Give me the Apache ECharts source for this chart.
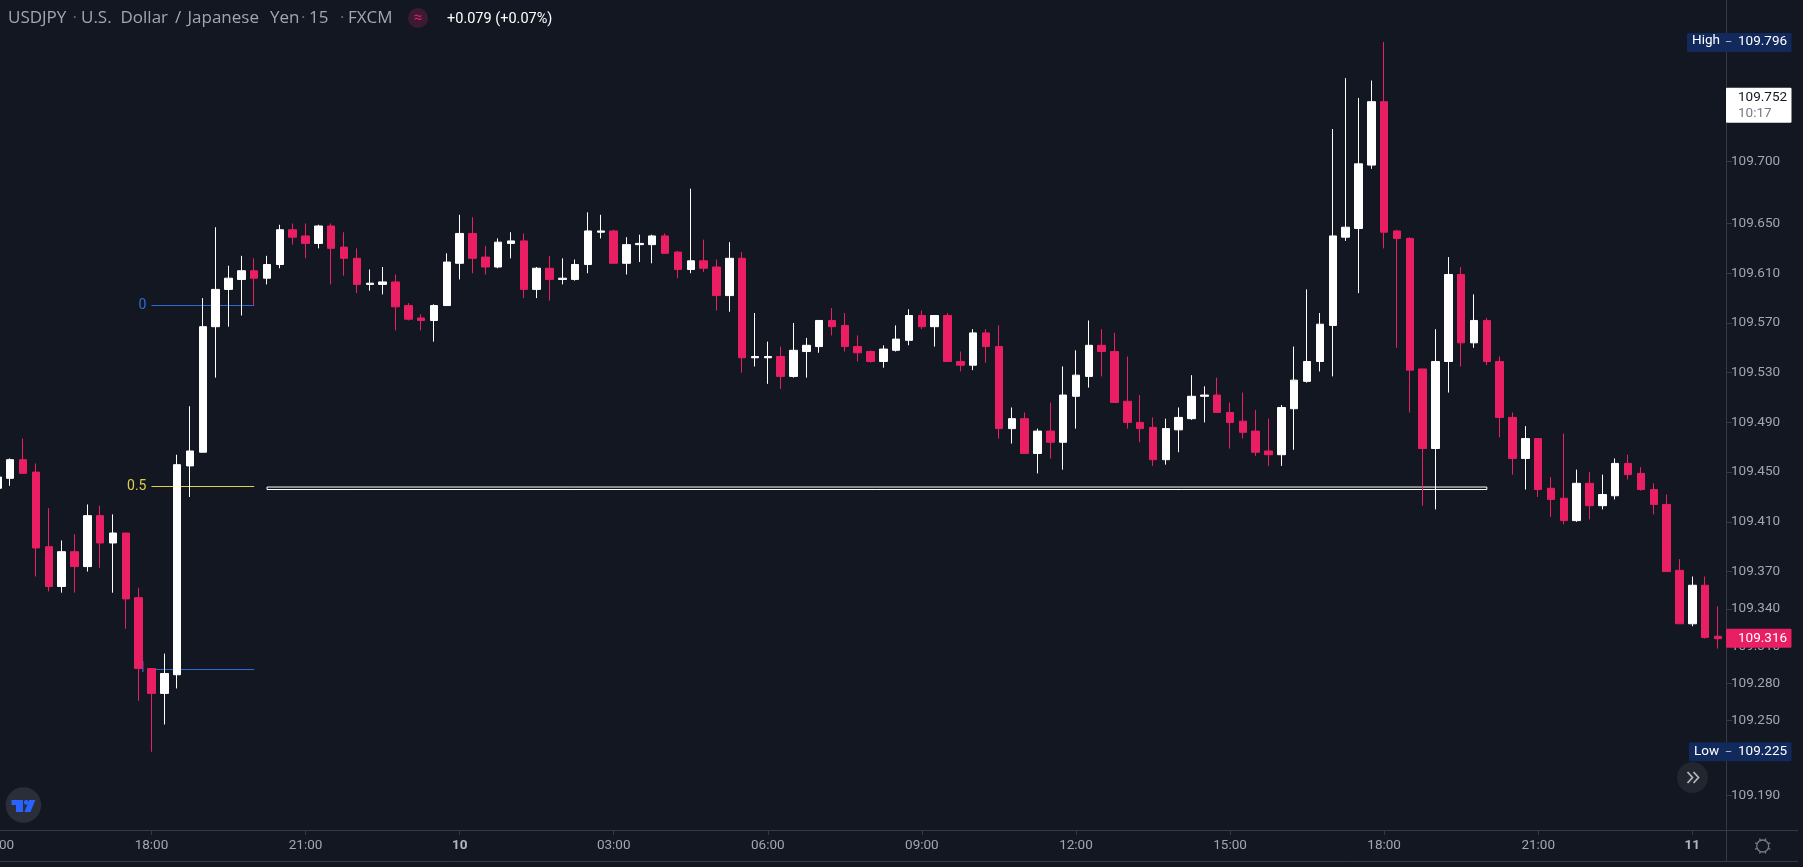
<!DOCTYPE html>
<html>
<head>
<meta charset="utf-8">
<title>USDJPY 15</title>
<style>
  html, body { margin: 0; padding: 0; background: #131722; overflow: hidden; }
  #chart { width: 1803px; height: 867px; }
</style>
<script src="https://cdn.jsdelivr.net/npm/echarts@6/dist/echarts.min.js"></script>
</head>
<body>
<div id="chart"></div>
<script>
// USDJPY 15 min candles
const opens = [
  109.437, 109.445, 109.460, 109.450, 109.390, 109.358, 109.386, 109.374, 109.415, 109.393,
  109.401, 109.349, 109.292, 109.272, 109.287, 109.455, 109.466, 109.567, 109.597, 109.605,
  109.612, 109.606, 109.617, 109.645, 109.640, 109.634, 109.648, 109.631, 109.622, 109.601,
  109.601, 109.603, 109.584, 109.574, 109.572, 109.584, 109.618, 109.642, 109.623, 109.615,
  109.634, 109.636, 109.597, 109.614, 109.605, 109.605, 109.617, 109.643, 109.644, 109.618,
  109.633, 109.633, 109.640, 109.627, 109.613, 109.620, 109.615, 109.592, 109.622, 109.542,
  109.542, 109.543, 109.527, 109.547, 109.551, 109.572, 109.568, 109.551, 109.547, 109.539,
  109.548, 109.556, 109.576, 109.567, 109.576, 109.539, 109.536, 109.562, 109.551, 109.485,
  109.493, 109.465, 109.483, 109.474, 109.511, 109.527, 109.552, 109.547, 109.507, 109.490,
  109.486, 109.460, 109.484, 109.493, 109.511, 109.512, 109.498, 109.491, 109.483, 109.467,
  109.464, 109.501, 109.523, 109.539, 109.568, 109.639, 109.646, 109.697, 109.748, 109.644,
  109.638, 109.533, 109.469, 109.539, 109.609, 109.554, 109.572, 109.539, 109.494, 109.461,
  109.477, 109.437, 109.429, 109.411, 109.441, 109.423, 109.431, 109.457, 109.449, 109.436,
  109.424, 109.371, 109.328, 109.359, 109.318
];
const closes = [
  109.446, 109.460, 109.449, 109.389, 109.358, 109.386, 109.374, 109.415, 109.393, 109.401,
  109.348, 109.292, 109.272, 109.288, 109.456, 109.467, 109.567, 109.597, 109.606, 109.612,
  109.606, 109.617, 109.645, 109.639, 109.634, 109.648, 109.630, 109.622, 109.601, 109.602,
  109.603, 109.583, 109.573, 109.572, 109.584, 109.619, 109.642, 109.622, 109.615, 109.635,
  109.636, 109.597, 109.614, 109.605, 109.606, 109.617, 109.644, 109.644, 109.618, 109.633,
  109.634, 109.640, 109.626, 109.613, 109.620, 109.614, 109.592, 109.622, 109.542, 109.543,
  109.543, 109.527, 109.548, 109.552, 109.572, 109.567, 109.551, 109.546, 109.539, 109.549,
  109.557, 109.576, 109.567, 109.576, 109.539, 109.536, 109.562, 109.551, 109.485, 109.493,
  109.465, 109.483, 109.474, 109.512, 109.528, 109.552, 109.547, 109.506, 109.490, 109.485,
  109.460, 109.485, 109.494, 109.511, 109.512, 109.498, 109.490, 109.482, 109.466, 109.464,
  109.502, 109.524, 109.539, 109.569, 109.640, 109.647, 109.698, 109.748, 109.643, 109.638,
  109.532, 109.469, 109.539, 109.609, 109.554, 109.572, 109.539, 109.494, 109.461, 109.477,
  109.436, 109.428, 109.411, 109.441, 109.423, 109.432, 109.457, 109.448, 109.436, 109.424,
  109.370, 109.328, 109.359, 109.317, 109.316
];
const lows = [
  109.433, 109.439, 109.449, 109.366, 109.354, 109.353, 109.353, 109.370, 109.373, 109.353,
  109.324, 109.266, 109.225, 109.247, 109.276, 109.430, 109.466, 109.526, 109.567, 109.576,
  109.584, 109.601, 109.614, 109.633, 109.622, 109.630, 109.601, 109.608, 109.594, 109.596,
  109.593, 109.564, 109.572, 109.564, 109.555, 109.584, 109.605, 109.610, 109.609, 109.614,
  109.622, 109.590, 109.590, 109.588, 109.601, 109.604, 109.610, 109.638, 109.618, 109.609,
  109.619, 109.618, 109.626, 109.606, 109.610, 109.611, 109.580, 109.579, 109.530, 109.535,
  109.521, 109.517, 109.526, 109.526, 109.546, 109.560, 109.547, 109.539, 109.538, 109.534,
  109.547, 109.552, 109.565, 109.551, 109.539, 109.531, 109.532, 109.538, 109.477, 109.473,
  109.465, 109.449, 109.461, 109.452, 109.485, 109.518, 109.527, 109.506, 109.485, 109.474,
  109.455, 109.456, 109.466, 109.492, 109.490, 109.498, 109.469, 109.477, 109.463, 109.455,
  109.455, 109.468, 109.522, 109.531, 109.527, 109.636, 109.594, 109.694, 109.630, 109.550,
  109.498, 109.423, 109.420, 109.514, 109.535, 109.550, 109.536, 109.478, 109.448, 109.436,
  109.430, 109.414, 109.408, 109.410, 109.412, 109.420, 109.428, 109.444, 109.435, 109.416,
  109.370, 109.328, 109.326, 109.316, 109.308
];
const highs = [
  109.448, 109.461, 109.477, 109.457, 109.421, 109.395, 109.400, 109.424, 109.423, 109.416,
  109.401, 109.357, 109.292, 109.304, 109.464, 109.503, 109.590, 109.647, 109.616, 109.624,
  109.622, 109.624, 109.649, 109.650, 109.650, 109.649, 109.650, 109.643, 109.630, 109.613,
  109.615, 109.609, 109.586, 109.577, 109.585, 109.626, 109.657, 109.655, 109.632, 109.638,
  109.643, 109.642, 109.615, 109.624, 109.622, 109.621, 109.659, 109.657, 109.645, 109.639,
  109.641, 109.641, 109.642, 109.628, 109.678, 109.637, 109.621, 109.635, 109.627, 109.578,
  109.555, 109.551, 109.570, 109.558, 109.572, 109.582, 109.578, 109.560, 109.548, 109.552,
  109.568, 109.581, 109.580, 109.576, 109.578, 109.547, 109.565, 109.565, 109.568, 109.502,
  109.498, 109.485, 109.506, 109.535, 109.548, 109.572, 109.565, 109.562, 109.543, 109.512,
  109.494, 109.493, 109.502, 109.528, 109.519, 109.526, 109.506, 109.514, 109.500, 109.493,
  109.504, 109.551, 109.597, 109.578, 109.726, 109.767, 109.751, 109.765, 109.796, 109.645,
  109.639, 109.533, 109.565, 109.623, 109.615, 109.593, 109.574, 109.543, 109.498, 109.487,
  109.477, 109.446, 109.481, 109.452, 109.450, 109.448, 109.461, 109.464, 109.454, 109.441,
  109.432, 109.380, 109.366, 109.366, 109.342
];

// y axis prices, unevenly spaced like the source chart
const priceTicks = [109.19, 109.22, 109.25, 109.28, 109.31, 109.34, 109.37, 109.41, 109.45, 109.49, 109.53, 109.57, 109.61, 109.65, 109.7];
const fibLevels = [
  { name: '0', price: 109.5843, color: '#2b6cd4' },
  { name: '0.5', price: 109.4384, color: '#dccf4c' },
  { name: '1', price: 109.2918, color: '#2b6cd4' }
];
const boxPrices = [109.438, 109.436];
const lastPrice = 109.316, livePrice = 109.752, highPrice = 109.796, lowPrice = 109.225;

// one label every 12 candles, first candle is 15:00
const xTickLabels = ['15:00', '18:00', '21:00', '10', '03:00', '06:00', '09:00', '12:00', '15:00', '18:00', '21:00', '11'];
const categories = opens.map(function (v, i) {
  return i % 12 === 0 ? xTickLabels[i / 12] : 'c' + i;
});

const BG = '#131722', UP = '#ffffff', DOWN = '#e91e63', AXIS = '#363a45', TEXT = '#a3a6af', NAVY = '#12295c';
const FONT = 'Roboto';

var dom = document.getElementById('chart');
var myChart = echarts.init(dom, null, { renderer: 'canvas' });

var candleData = opens.map(function (o, i) {
  return [o, closes[i], lows[i], highs[i]];
});

var fibLines = fibLevels.map(function (f) {
  return [
    { coord: [12, f.price], lineStyle: { color: f.color, width: 1, type: 'solid' },
      label: { show: true, position: 'start', formatter: f.name, color: f.color, fontSize: 14, fontFamily: FONT, distance: 5 } },
    { coord: [20, f.price] }
  ];
});

var option = {
  backgroundColor: BG,
  animation: false,
  grid: { left: -9.02, top: 0, width: 1733.4, height: 830, outerBoundsMode: 'none' },
  xAxis: {
    type: 'category',
    data: categories,
    boundaryGap: true,
    axisLine: { lineStyle: { color: AXIS, width: 1 } },
    axisTick: { show: true, length: 5, alignWithLabel: true, lineStyle: { color: AXIS },
      interval: function (i) { return i % 12 === 0; } },
    axisLabel: {
      interval: function (i) { return i % 12 === 0; },
      hideOverlap: false,
      showMinLabel: true,
      color: TEXT,
      fontFamily: FONT,
      fontSize: 13.5,
      margin: 9,
      formatter: function (v) { return v.length === 2 ? '{day|' + v + '}' : v; },
      rich: { day: { fontWeight: 'bold', color: '#b2b5be', fontFamily: FONT, fontSize: 13.5 } }
    },
    splitLine: { show: false }
  },
  yAxis: {
    type: 'value',
    position: 'right',
    offset: 1.6,
    min: 109.1621,
    max: 109.8298,
    axisLine: { show: true, lineStyle: { color: AXIS, width: 1 } },
    axisTick: { show: true, length: 6, lineStyle: { color: AXIS }, customValues: priceTicks },
    axisLabel: {
      color: TEXT, fontFamily: FONT, fontSize: 13.5, margin: 5,
      customValues: priceTicks,
      formatter: function (v) { return v.toFixed(3); }
    },
    splitLine: { show: false }
  },
  series: [
    {
      // drawn under the candles
      type: 'line',
      z: 1,
      silent: true,
      data: [],
      markLine: { silent: true, z: 1, symbol: 'none', animation: false, data: fibLines },
      markArea: {
        silent: true, z: 1, animation: false,
        itemStyle: { color: BG, borderColor: '#ffffff', borderWidth: 1 },
        data: [[{ coord: [21, boxPrices[0]] }, { coord: [116, boxPrices[1]] }]]
      }
    },
    {
      type: 'candlestick',
      z: 2,
      barWidth: 8,
      data: candleData,
      itemStyle: { color: UP, color0: DOWN, borderColor: UP, borderColor0: DOWN, borderWidth: 1 }
    }
  ]
};

myChart.setOption(option);

function priceY(p) {
  return myChart.convertToPixel({ yAxisIndex: 0 }, p);
}

function label(x, y, text, color, size, extra, family) {
  return {
    type: 'text', x: x, y: y, z: 20,
    style: Object.assign({ text: text, fill: color, font: size + 'px ' + (family || FONT), textVerticalAlign: 'middle' }, extra || {})
  };
}

function box(x, y, w, h, fill) {
  return { type: 'rect', z: 19, shape: { x: x, y: y, width: w, height: h, r: 1 }, style: { fill: fill } };
}

function hline(x1, x2, y, color) {
  return { type: 'line', z: 18, shape: { x1: x1, y1: y, x2: x2, y2: y }, style: { stroke: color, lineWidth: 1 } };
}

function vline(x, y1, y2, color) {
  return { type: 'line', z: 18, shape: { x1: x, y1: y1, x2: x, y2: y2 }, style: { stroke: color, lineWidth: 1 } };
}

var g = [];

// frame around the axes
g.push(hline(1724, 1798, 830.5, AXIS));
g.push(hline(0, 1798, 861.5, AXIS));
g.push(vline(1726.5, 830, 862, AXIS));

// header, words placed one by one to keep the source's wide spacing
var HEAD = 'Open Sans';
[[8, 'USDJPY'], [81, 'U.S.'], [120.5, 'Dollar'], [175, '/'], [187.5, 'Japanese'], [270, 'Yen'], [309, '15'], [348, 'FXCM']].forEach(function (w) {
  g.push(label(w[0], 18, w[1], TEXT, 17, null, HEAD));
});
[72.5, 301, 340].forEach(function (x) {
  g.push(label(x, 18, '·', '#6a6d78', 17, null, HEAD));
});
g.push({ type: 'circle', z: 19, shape: { cx: 418, cy: 18, r: 10 }, style: { fill: '#3d1a33' } });
g.push(label(418, 18, '≈', DOWN, 15, { textAlign: 'center' }));
g.push(label(447, 19, '+0.079 (+0.07%)', '#ffffff', 14.5));

// price tags on the right axis
var yHigh = priceY(highPrice), yLow = priceY(lowPrice), yLive = priceY(livePrice), yLast = priceY(lastPrice);
g.push(box(1687, yHigh - 9, 104.5, 19, NAVY));
g.push(label(1692, yHigh - 1, 'High', '#ffffff', 13.5));
g.push(label(1725, yHigh, '–', '#c8ccd8', 11));
g.push(label(1738, yHigh, highPrice.toFixed(3), '#ffffff', 13.5));

g.push(box(1726, yLive - 9, 65.5, 35, '#ffffff'));
g.push(hline(1726, 1732, yLive, '#333333'));
g.push(label(1738, yLive + 1, livePrice.toFixed(3), '#131722', 13.5));
g.push(label(1738, yLive + 17, '10:17', '#787b86', 13.5));

g.push(box(1726, yLast - 10, 65.5, 19, DOWN));
g.push(hline(1726, 1732, yLast, '#ffffff'));
g.push(label(1738, yLast, lastPrice.toFixed(3), '#ffffff', 13.5));

g.push(box(1689, yLow - 9.5, 102.5, 19, NAVY));
g.push(label(1694, yLow, 'Low', '#ffffff', 13.5));
g.push(label(1725, yLow, '–', '#c8ccd8', 11));
g.push(label(1738, yLow, lowPrice.toFixed(3), '#ffffff', 13.5));

// scroll button
g.push({ type: 'circle', z: 19, shape: { cx: 1692.5, cy: 777.5, r: 15.5 }, style: { fill: '#22262f' } });
[1687.5, 1693.5].forEach(function (x) {
  g.push({ type: 'polyline', z: 20, shape: { points: [[x, 772], [x + 5, 777.5], [x, 783]] },
    style: { stroke: '#b2b5be', lineWidth: 1.8, fill: null } });
});

// logo
g.push({ type: 'circle', z: 19, shape: { cx: 23.4, cy: 805, r: 17.8 }, style: { fill: '#2a2e39' } });
g.push({ type: 'polygon', z: 20, shape: { points: [[11.5, 800], [23, 800], [23, 812], [16, 812], [16, 805], [11.5, 805]] }, style: { fill: '#2962ff' } });
g.push({ type: 'circle', z: 20, shape: { cx: 26.3, cy: 802.4, r: 2.4 }, style: { fill: '#2962ff' } });
g.push({ type: 'polygon', z: 20, shape: { points: [[29.2, 800], [35.4, 800], [30.4, 812], [24.4, 812]] }, style: { fill: '#2962ff' } });

// settings gear
g.push({ type: 'circle', z: 20, shape: { cx: 1762.7, cy: 846, r: 6 }, style: { fill: null, stroke: '#787b86', lineWidth: 1.3 } });
for (var a = 0; a < 8; a++) {
  var ang = a * Math.PI / 4 + Math.PI / 8;
  g.push({ type: 'line', z: 20,
    shape: { x1: 1762.7 + 6 * Math.cos(ang), y1: 846 + 6 * Math.sin(ang), x2: 1762.7 + 8.2 * Math.cos(ang), y2: 846 + 8.2 * Math.sin(ang) },
    style: { stroke: '#787b86', lineWidth: 1.3 } });
}

myChart.setOption({ graphic: { elements: g } });

window.addEventListener('resize', myChart.resize);
</script>
</body>
</html>
